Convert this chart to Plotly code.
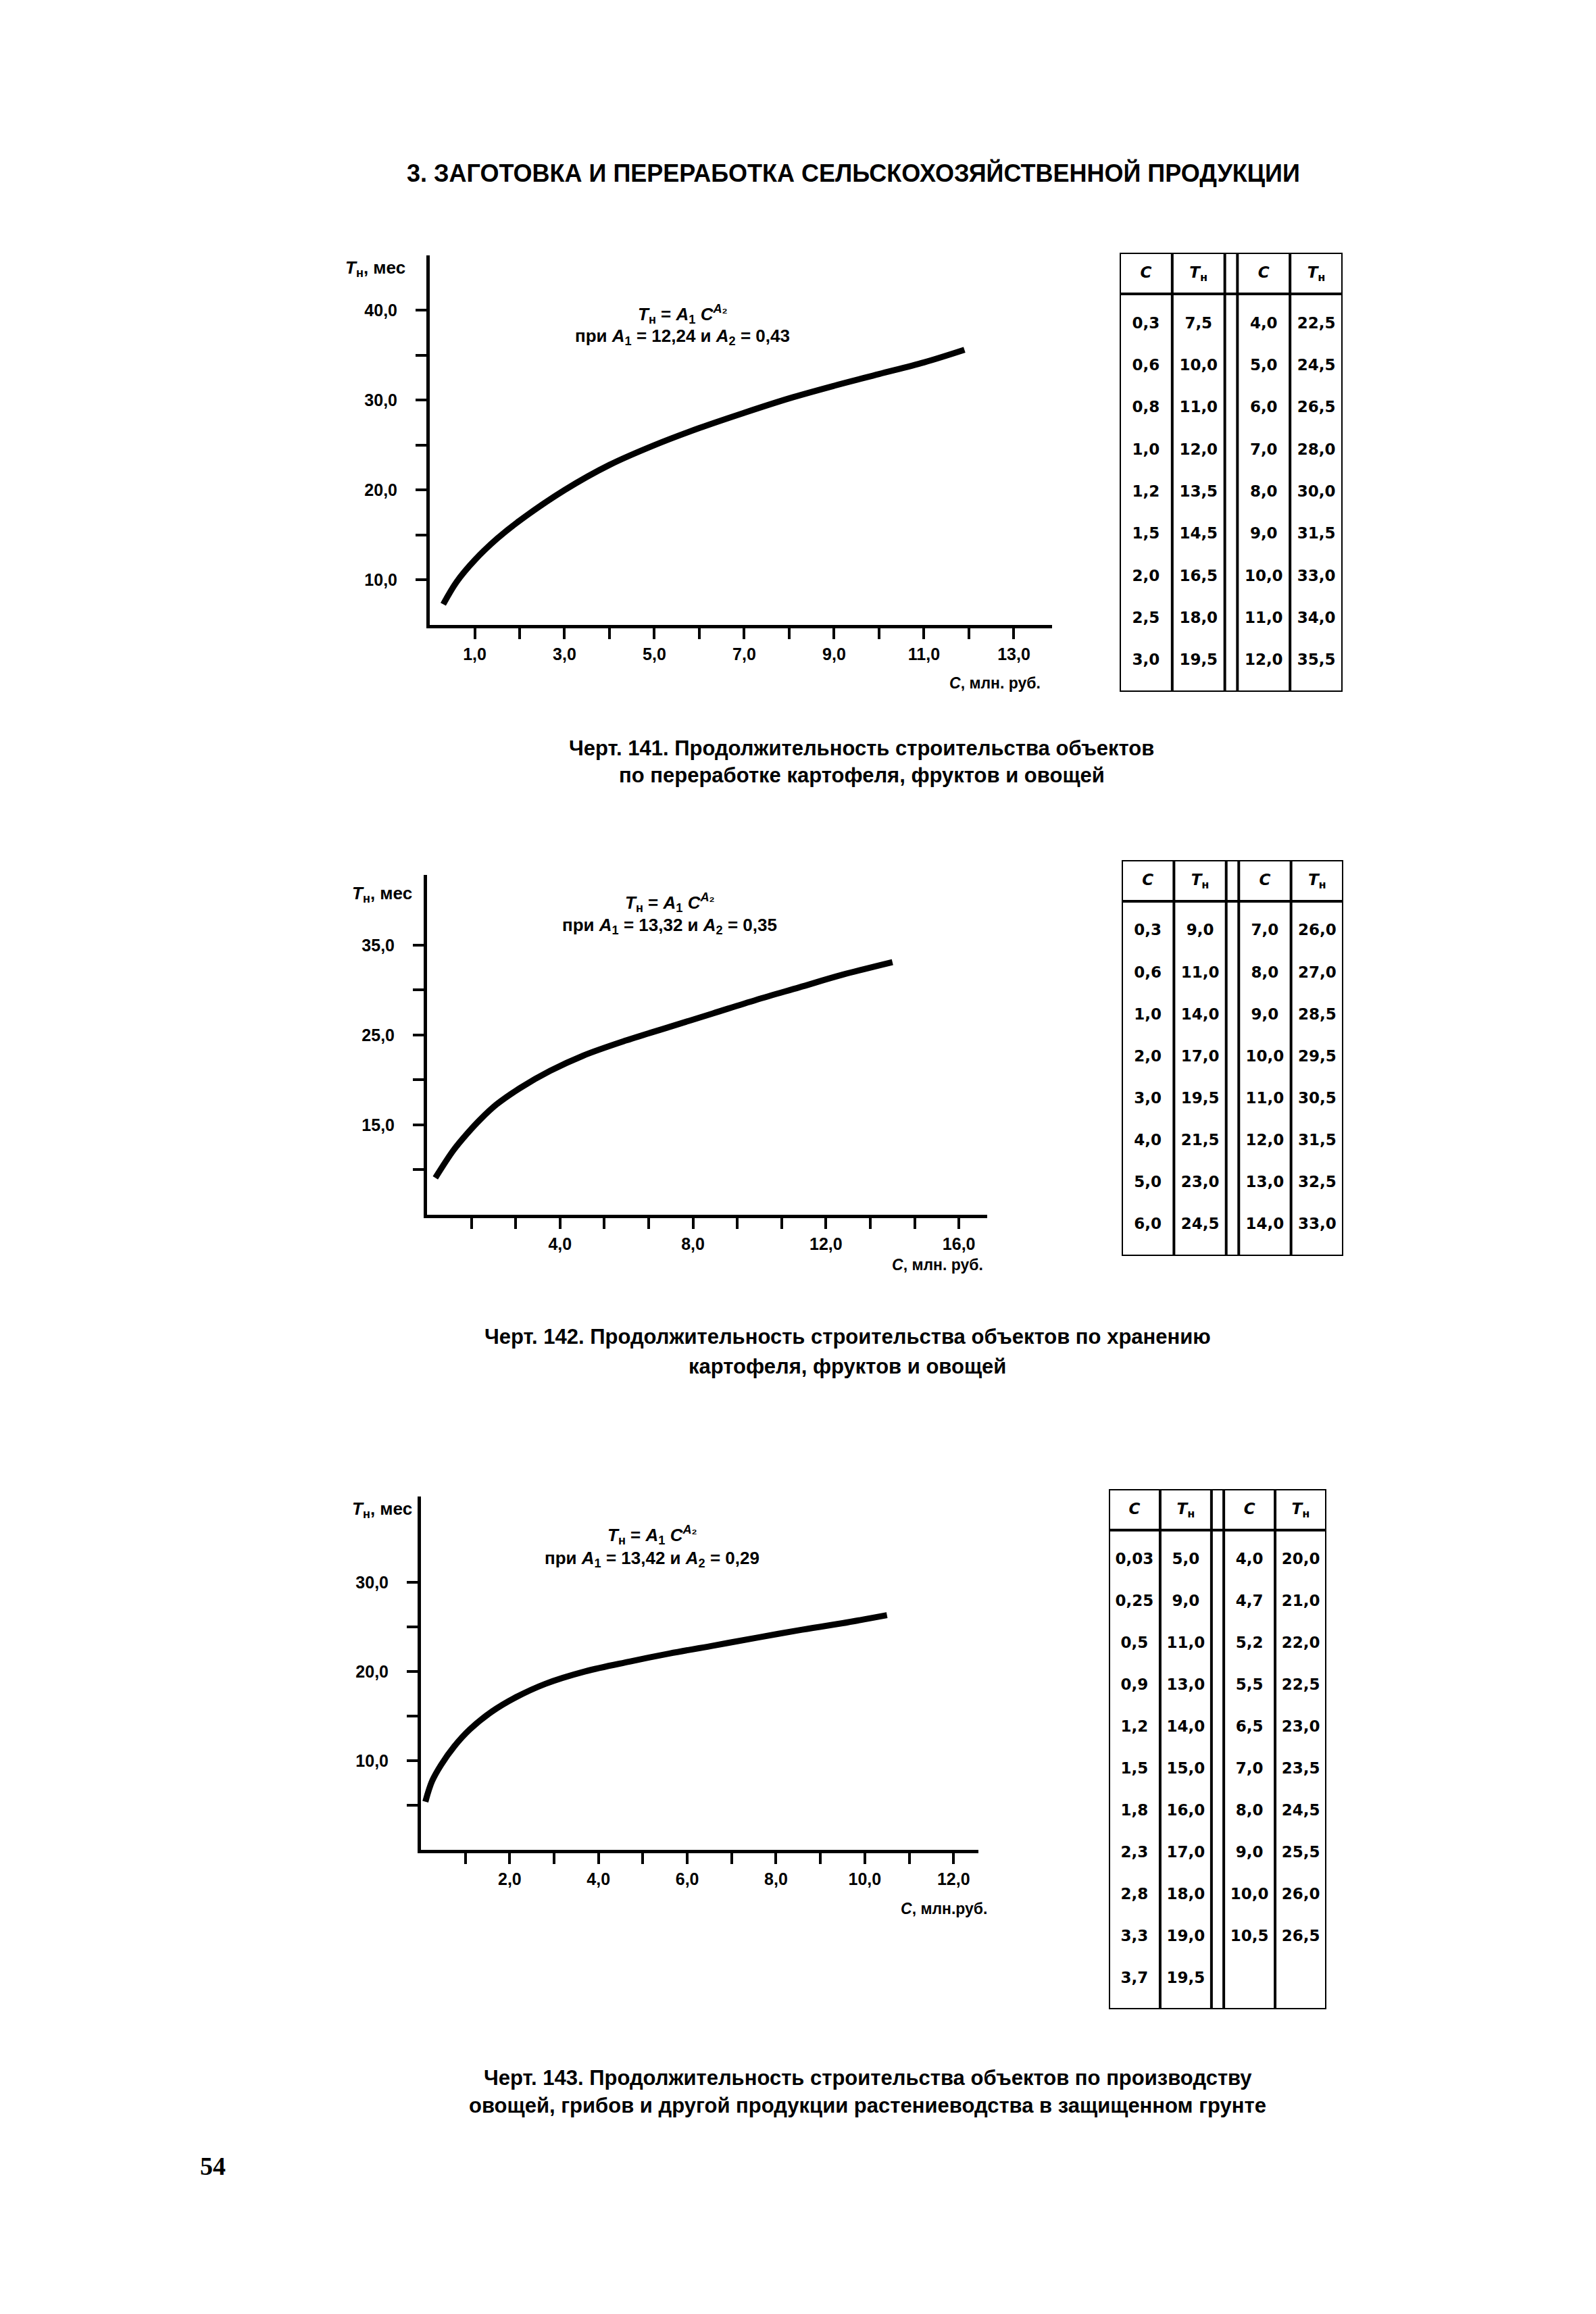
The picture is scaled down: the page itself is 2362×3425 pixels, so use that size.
import plotly.graph_objects as go

W, H = 2362, 3425

# ---------------- data ----------------
page_title = "3. ЗАГОТОВКА И ПЕРЕРАБОТКА СЕЛЬСКОХОЗЯЙСТВЕННОЙ ПРОДУКЦИИ"
page_number = "54"

# Черт. 141 — table
c141_left = [0.3, 0.6, 0.8, 1.0, 1.2, 1.5, 2.0, 2.5, 3.0]
t141_left = [7.5, 10.0, 11.0, 12.0, 13.5, 14.5, 16.5, 18.0, 19.5]
c141_right = [4.0, 5.0, 6.0, 7.0, 8.0, 9.0, 10.0, 11.0, 12.0]
t141_right = [22.5, 24.5, 26.5, 28.0, 30.0, 31.5, 33.0, 34.0, 35.5]
# Черт. 141
curve141_c = [0.3, 0.6, 1.0, 1.5, 2.0, 3.0, 4.0, 5.0, 6.0, 7.0, 8.0, 9.0, 10.0, 11.0, 11.9]
curve141_t = [7.3, 9.8, 12.2, 14.6, 16.6, 20.0, 22.8, 25.0, 26.9, 28.6, 30.2, 31.6, 32.9, 34.2, 35.6]
a141 = ("12,24", "0,43")
x141_tickvals = [1, 3, 5, 7, 9, 11, 13]
x141_ticktext = ["1,0", "3,0", "5,0", "7,0", "9,0", "11,0", "13,0"]
y141_tickvals = [10, 20, 30, 40]
y141_ticktext = ["10,0", "20,0", "30,0", "40,0"]
caption141 = ["Черт. 141. Продолжительность строительства объектов",
              "по переработке картофеля, фруктов и овощей"]

# Черт. 142 — table
c142_left = [0.3, 0.6, 1.0, 2.0, 3.0, 4.0, 5.0, 6.0]
t142_left = [9.0, 11.0, 14.0, 17.0, 19.5, 21.5, 23.0, 24.5]
c142_right = [7.0, 8.0, 9.0, 10.0, 11.0, 12.0, 13.0, 14.0]
t142_right = [26.0, 27.0, 28.5, 29.5, 30.5, 31.5, 32.5, 33.0]
# Черт. 142
curve142_c = [0.25, 0.8, 1.2, 1.6, 2.1, 2.8, 3.7, 4.7, 6.0, 7.3, 8.6, 9.9, 11.2, 12.5, 14.0]
curve142_t = [9.1, 12.2, 14.0, 15.6, 17.3, 19.1, 21.0, 22.7, 24.4, 25.9, 27.4, 28.9, 30.3, 31.7, 33.1]
a142 = ("13,32", "0,35")
x142_tickvals = [4, 8, 12, 16]
x142_ticktext = ["4,0", "8,0", "12,0", "16,0"]
y142_tickvals = [15, 25, 35]
y142_ticktext = ["15,0", "25,0", "35,0"]
caption142 = ["Черт. 142. Продолжительность строительства объектов по хранению",
              "картофеля, фруктов и овощей"]

# Черт. 143 — table
c143_left = [0.03, 0.25, 0.5, 0.9, 1.2, 1.5, 1.8, 2.3, 2.8, 3.3, 3.7]
t143_left = [5.0, 9.0, 11.0, 13.0, 14.0, 15.0, 16.0, 17.0, 18.0, 19.0, 19.5]
c143_right = [4.0, 4.7, 5.2, 5.5, 6.5, 7.0, 8.0, 9.0, 10.0, 10.5]
t143_right = [20.0, 21.0, 22.0, 22.5, 23.0, 23.5, 24.5, 25.5, 26.0, 26.5]
# Черт. 143
curve143_c = [0.1, 0.25, 0.45, 0.75, 1.1, 1.6, 2.1, 2.8, 3.7, 4.7, 5.6, 6.6, 7.6, 8.5, 9.5, 10.5]
curve143_t = [5.4, 7.7, 9.5, 11.6, 13.5, 15.5, 17.0, 18.6, 20.0, 21.1, 22.0, 22.9, 23.8, 24.6, 25.4, 26.3]
a143 = ("13,42", "0,29")
x143_tickvals = [2, 4, 6, 8, 10, 12]
x143_ticktext = ["2,0", "4,0", "6,0", "8,0", "10,0", "12,0"]
y143_tickvals = [10, 20, 30]
y143_ticktext = ["10,0", "20,0", "30,0"]
caption143 = ["Черт. 143. Продолжительность строительства объектов по производству",
              "овощей, грибов и другой продукции растениеводства в защищенном грунте"]

# ---------------- helpers ----------------
def fx(p):
    return p / W


def fy(p):
    return 1 - p / H


def fmt(v):
    s = f"{v:.1f}" if abs(round(v, 1) - v) < 1e-9 else f"{v:.2f}"
    return s.replace(".", ",")


BOLD = "Liberation Sans, Arial, sans-serif"
TABF = "DejaVu Sans, sans-serif"

charts = [
    dict(cl=c141_left, tl=t141_left, cr=c141_right, tr=t141_right, a=a141,
         cc=curve141_c, ct=curve141_t,
         xt=(x141_tickvals, x141_ticktext), yt=(y141_tickvals, y141_ticktext),
         xminor=list(range(1, 14)), yminor=[15, 25, 35],
         xd=(636, 1557), yd=(378, 925), xr=[0, 13.85], yr=[5, 46.1],
         ylab=(602, 398), xlab=(1542, 1011, "<i>C</i>, млн. руб."),
         form=(1010, 465, 499),
         tab_x=(1657, 1987), tab_y=(374, 1024),
         cap=caption141, cap_xy=(1275, 1107, 1147)),
    dict(cl=c142_left, tl=t142_left, cr=c142_right, tr=t142_right, a=a142,
         cc=curve142_c, ct=curve142_t,
         xt=(x142_tickvals, x142_ticktext), yt=(y142_tickvals, y142_ticktext),
         xminor=[k * 4 / 3 for k in range(1, 13)], yminor=[10, 20, 30],
         xd=(632, 1461), yd=(1295, 1798), xr=[0, 16.85], yr=[5, 42.8],
         ylab=(612, 1324), xlab=(1457, 1872, "<i>C</i>, млн. руб."),
         form=(991, 1336, 1370),
         tab_x=(1660, 1988), tab_y=(1273, 1859),
         cap=caption142, cap_xy=(1254, 1979, 2022)),
    dict(cl=c143_left, tl=t143_left, cr=c143_right, tr=t143_right, a=a143,
         cc=curve143_c, ct=curve143_t,
         xt=(x143_tickvals, x143_ticktext), yt=(y143_tickvals, y143_ticktext),
         xminor=list(range(1, 13)), yminor=[5, 15, 25],
         xd=(623, 1448), yd=(2215, 2738), xr=[0, 12.56], yr=[0, 39.6],
         ylab=(612, 2234), xlab=(1463, 2825, "<i>C</i>, млн.руб."),
         form=(965, 2272, 2307),
         tab_x=(1641, 1963), tab_y=(2204, 2974),
         cap=caption143, cap_xy=(1284, 3075, 3116)),
]

fig = go.Figure()
annotations = []
shapes = []
layout = dict(
    width=W, height=H, margin=dict(l=0, r=0, t=0, b=0),
    paper_bgcolor="white", plot_bgcolor="white", showlegend=False,
)

TICK = dict(ticks="outside", ticklen=16, tickwidth=4, tickcolor="black")
COLX = [0, 1, 2.24, 3.24]  # column centre positions in table units
GAP = (1.5, 1.74)

for i, ch in enumerate(charts):
    n = i + 1
    xa = "x" if n == 1 else f"x{n}"
    ya = "y" if n == 1 else f"y{n}"
    # --- curve ---
    fig.add_trace(go.Scatter(
        x=ch["cc"], y=ch["ct"], mode="lines",
        line=dict(color="black", width=9, shape="spline", smoothing=1.0),
        xaxis=xa, yaxis=ya, hoverinfo="skip"))
    axis_common = dict(showline=True, linecolor="black", linewidth=5,
                       showgrid=False, zeroline=False, fixedrange=True,
                       tickfont=dict(family=BOLD, size=25, color="black", weight="bold"),
                       **TICK)
    layout["xaxis" if n == 1 else f"xaxis{n}"] = dict(
        domain=[fx(ch["xd"][0]), fx(ch["xd"][1])], range=ch["xr"],
        anchor=ya, tickmode="array", tickvals=ch["xt"][0], ticktext=ch["xt"][1],
        minor=dict(tickmode="array", tickvals=ch["xminor"], showgrid=False, **TICK),
        ticklabelstandoff=1, **axis_common)
    layout["yaxis" if n == 1 else f"yaxis{n}"] = dict(
        domain=[fy(ch["yd"][1]), fy(ch["yd"][0])], range=ch["yr"],
        anchor=xa, tickmode="array", tickvals=ch["yt"][0], ticktext=ch["yt"][1],
        minor=dict(tickmode="array", tickvals=ch["yminor"], showgrid=False, **TICK),
        ticklabelstandoff=22, **axis_common)

    # --- axis titles ---
    annotations.append(dict(
        x=fx(ch["ylab"][0]), y=fy(ch["ylab"][1]), xref="paper", yref="paper",
        xanchor="right", yanchor="middle", showarrow=False,
        text="<i>T</i><sub>н</sub>, мес",
        font=dict(family=BOLD, size=26, color="black", weight="bold")))
    annotations.append(dict(
        x=fx(ch["xlab"][0]), y=fy(ch["xlab"][1]), xref="paper", yref="paper",
        xanchor="right", yanchor="middle", showarrow=False, text=ch["xlab"][2],
        font=dict(family=BOLD, size=23, color="black", weight="bold")))
    # --- formula ---
    fxp, fy1, fy2 = ch["form"]
    annotations.append(dict(
        x=fx(fxp), y=fy(fy1), xref="paper", yref="paper", showarrow=False,
        xanchor="center", yanchor="middle",
        text="<i>T</i><sub>н</sub> = <i>A</i><sub>1</sub> <i>C</i><sup><i>A</i>₂</sup>",
        font=dict(family=BOLD, size=26, color="black", weight="bold")))
    annotations.append(dict(
        x=fx(fxp), y=fy(fy2), xref="paper", yref="paper", showarrow=False,
        xanchor="center", yanchor="middle",
        text=f"при <i>A</i><sub>1</sub> = {ch['a'][0]} и <i>A</i><sub>2</sub> = {ch['a'][1]}",
        font=dict(family=BOLD, size=26, color="black", weight="bold")))
    # --- caption ---
    cx, cy1, cy2 = ch["cap_xy"]
    for line, yy in zip(ch["cap"], (cy1, cy2)):
        annotations.append(dict(
            x=fx(cx), y=fy(yy), xref="paper", yref="paper", showarrow=False,
            xanchor="center", yanchor="middle", text=line,
            font=dict(family=BOLD, size=31, color="black", weight="bold")))

    # --- table ---
    tn = 3 + n
    txa, tya = f"x{tn}", f"y{tn}"
    nrows = max(len(ch["cl"]), len(ch["cr"]))
    xs, ys, texts = [], [], []
    for col, vals in enumerate((ch["cl"], ch["tl"], ch["cr"], ch["tr"])):
        xs.append(COLX[col]); ys.append(-1.2)
        texts.append("<i>C</i>" if col % 2 == 0 else "<i>T</i><sub>н</sub>")
        for r, v in enumerate(vals):
            xs.append(COLX[col]); ys.append(r); texts.append(fmt(v))
    fig.add_trace(go.Scatter(
        x=xs, y=ys, text=texts, mode="text", textposition="middle center",
        textfont=dict(family=TABF, size=23, color="black", weight="bold"),
        xaxis=txa, yaxis=tya, hoverinfo="skip"))
    x0, x1 = -0.5, 3.74
    y0, y1 = -1.7, nrows - 1 + 0.73
    layout[f"xaxis{tn}"] = dict(domain=[fx(ch["tab_x"][0]), fx(ch["tab_x"][1])],
                                range=[x0, x1], visible=False, anchor=tya, fixedrange=True)
    layout[f"yaxis{tn}"] = dict(domain=[fy(ch["tab_y"][1]), fy(ch["tab_y"][0])],
                                range=[y1, y0], visible=False, anchor=txa, fixedrange=True)
    ln = dict(color="black", width=4)
    shapes.append(dict(type="rect", xref=txa, yref=tya, x0=x0, x1=x1, y0=y0, y1=y1, line=ln))
    for xv in (0.5, GAP[0], GAP[1], 2.74):
        shapes.append(dict(type="line", xref=txa, yref=tya, x0=xv, x1=xv, y0=y0, y1=y1, line=ln))
    shapes.append(dict(type="line", xref=txa, yref=tya, x0=x0, x1=x1, y0=-0.72, y1=-0.72, line=ln))

# page header & number
annotations.append(dict(x=fx(1263), y=fy(256), xref="paper", yref="paper", showarrow=False,
                        text=page_title, xanchor="center", yanchor="middle",
                        font=dict(family=BOLD, size=36, color="black", weight="bold")))
annotations.append(dict(x=fx(315), y=fy(3206), xref="paper", yref="paper", showarrow=False,
                        text=page_number, xanchor="center", yanchor="middle",
                        font=dict(family="Liberation Serif, serif", size=38, color="black",
                                  weight="bold")))

layout["annotations"] = annotations
layout["shapes"] = shapes
fig.update_layout(**layout)

fig.write_html("out.html", config={"displayModeBar": False},
               post_script="document.body.style.margin='0';document.body.style.padding='0';")
